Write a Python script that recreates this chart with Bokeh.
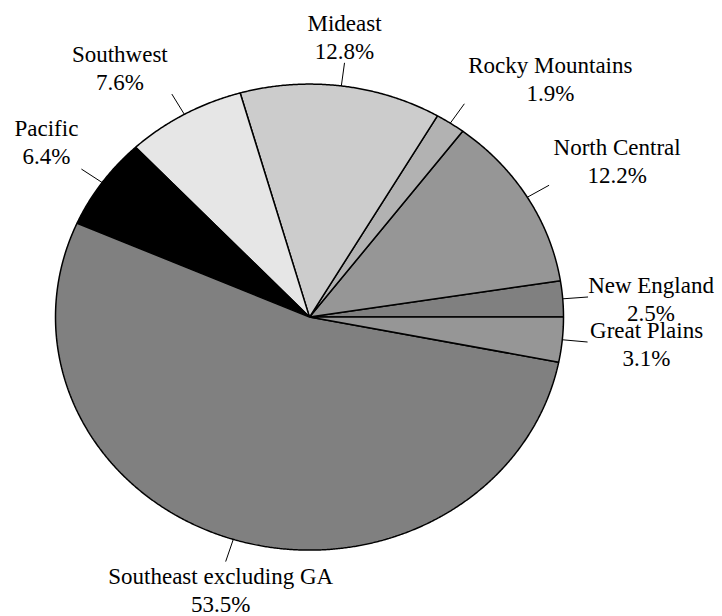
import numpy as np
from bokeh.plotting import figure
from bokeh.models import Range1d, ColumnDataSource
from bokeh.embed import file_html
from bokeh.resources import INLINE

# ---- data ----
regions = ["New England", "North Central", "Rocky Mountains", "Mideast",
           "Southwest", "Pacific", "Southeast excluding GA", "Great Plains"]
shares = [2.5, 12.2, 1.9, 12.8, 7.6, 6.4, 53.5, 3.1]
pct_labels = [f"{v:.1f}%" for v in shares]

# ---- styles / layout ----
colors = ["#808080", "#969696", "#b2b2b2", "#cccccc",
          "#e6e6e6", "#000000", "#808080", "#969696"]
# label placement relative to the end of each leader line (pixels, +y = down)
label_dx = [63, 68, 86, 0, -52, -35, -5, 59]
label_dy1 = [-11.4, -38, -38, -39.3, -39.5, -40.5, 15, -11.4]
LINE_GAP = 27.8
# names that all resolve to the same Times-metric serif face
FONTS = ["Liberation Serif", "serif", "Times New Roman", "Tinos",
         "Liberation Serif", "serif", "Times New Roman", "Tinos"]
FONT_SIZE = "23px"

W, H = 722, 616
PX_X, PX_Y = 254.0, 233.0          # pixels per unit radius (elliptical pie)
CX, CY = 309.0, 316.6              # pie centre (from top-left)

x_range = Range1d(-CX / PX_X, (W - CX) / PX_X)
y_range = Range1d(-(H - CY) / PX_Y, CY / PX_Y)

p = figure(width=W, height=H, x_range=x_range, y_range=y_range,
           output_backend="svg", toolbar_location=None, min_border=0)
p.axis.visible = False
p.grid.visible = False
p.outline_line_color = None
p.background_fill_color = "white"

# ---- wedges as polygons (unit circle in data units -> ellipse on screen) ----
tot = sum(shares)
ends = np.cumsum(shares) / tot * 2 * np.pi
starts = np.concatenate([[0.0], ends[:-1]])

xs, ys = [], []
for a0, a1 in zip(starts, ends):
    t = np.linspace(a0, a1, max(8, int((a1 - a0) / 0.005)))
    xs.append(np.concatenate([[0.0], np.cos(t), [0.0]]).tolist())
    ys.append(np.concatenate([[0.0], np.sin(t), [0.0]]).tolist())

p.patches(xs=xs, ys=ys, fill_color=colors, line_color="black", line_width=1.5)

# ---- leader lines and labels ----
mids = (starts + ends) / 2
lx0 = np.cos(mids); ly0 = np.sin(mids)
lx1 = 1.1 * np.cos(mids); ly1 = 1.1 * np.sin(mids)
p.segment(x0=lx0, y0=ly0, x1=lx1, y1=ly1, line_color="black", line_width=1)

tx = [x + dx / PX_X for x, dx in zip(lx1, label_dx)]
ty1 = [y - dy / PX_Y for y, dy in zip(ly1, label_dy1)]
ty2 = [y - (dy + LINE_GAP) / PX_Y for y, dy in zip(ly1, label_dy1)]

src1 = ColumnDataSource(dict(x=tx, y=ty1, t=regions, f=FONTS))
src2 = ColumnDataSource(dict(x=tx, y=ty2, t=pct_labels, f=FONTS))
p.text(x="x", y="y", text="t", text_font="f", source=src1, text_align="center",
       text_baseline="alphabetic", text_font_size=FONT_SIZE, text_color="black")
p.text(x="x", y="y", text="t", text_font="f", source=src2, text_align="center",
       text_baseline="alphabetic", text_font_size=FONT_SIZE, text_color="black")

open("out.html", "w").write(file_html(p, INLINE))
